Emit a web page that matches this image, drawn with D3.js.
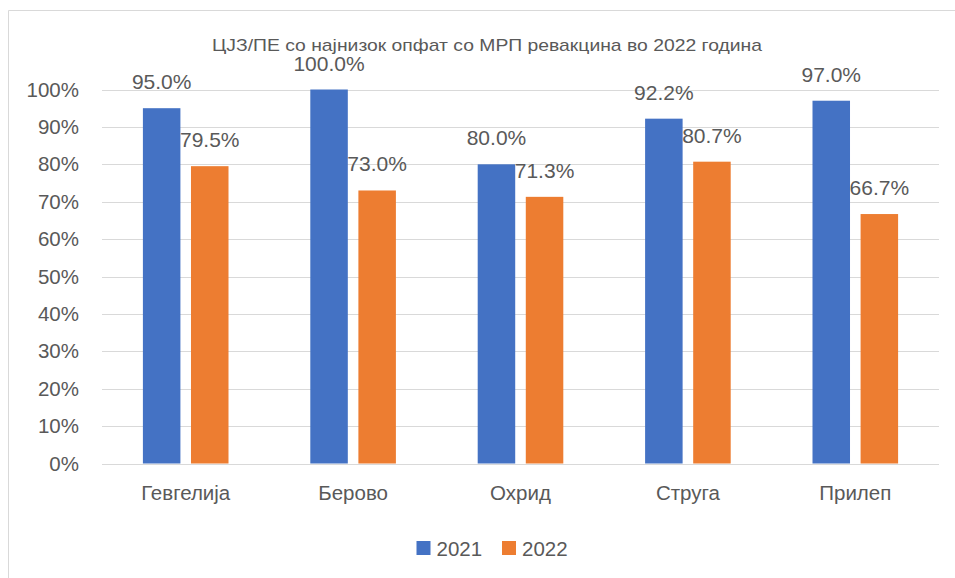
<!DOCTYPE html>
<html>
<head>
<meta charset="utf-8">
<script src="https://cdn.jsdelivr.net/npm/d3@7"></script>
<style>
  body { margin: 0; background: #fff; }
  text { font-family: "Liberation Sans", Arial, sans-serif; fill: #595959; }
</style>
</head>
<body>
<svg id="chart" width="955" height="578"></svg>
<script>
// chart data
var categories = ['Гевгелија', 'Берово', 'Охрид', 'Струга', 'Прилеп'];
var series = ['2021', '2022'];
var values2021 = [95.0, 100.0, 80.0, 92.2, 97.0];
var values2022 = [79.5, 73.0, 71.3, 80.7, 66.7];
var colors = ['#4472C4', '#ED7D31'];
var yTicks = [0, 10, 20, 30, 40, 50, 60, 70, 80, 90, 100];
var title = 'ЦЈЗ/ПЕ со најнизок опфат со МРП ревакцина во 2022 година';

var svg = d3.select('#chart');
var plotLeft = 102, plotRight = 939, plotTop = 89.5, plotBottom = 463.5;

// outer frame (only top and left edges are in view)
svg.append('path')
    .attr('d', 'M8.5,578 L8.5,10.5 L955,10.5')
    .attr('fill', 'none').attr('stroke', '#d9d9d9').attr('stroke-width', 1);

var y = d3.scaleLinear().domain([0, 100]).range([plotBottom, plotTop]);
var x0 = d3.scaleBand().domain(categories).range([plotLeft, plotRight]).padding(0);
var groupW = 85.6;
var x1 = d3.scaleBand().domain(series).range([0, groupW]).paddingInner(0.22).paddingOuter(0);

// gridlines
svg.append('g').selectAll('line').data(yTicks).enter().append('line')
    .attr('x1', plotLeft).attr('x2', plotRight)
    .attr('y1', function (d) { return Math.round(y(d)) + 0.5; })
    .attr('y2', function (d) { return Math.round(y(d)) + 0.5; })
    .attr('stroke', '#d9d9d9').attr('stroke-width', 1);

// y axis labels
var yAxis = d3.axisLeft(y).tickValues(yTicks).tickSize(0).tickPadding(0)
    .tickFormat(function (d) { return d + '%'; });
var gy = svg.append('g').attr('transform', 'translate(79,0)').call(yAxis);
gy.select('.domain').remove();
gy.selectAll('text').style('font-size', '20.5px').attr('fill', '#595959')
    .style('font-family', '"Liberation Sans", Arial, sans-serif');

// bars
var rows = categories.map(function (c, i) {
    return { cat: c, vals: [values2021[i], values2022[i]] };
});
var groups = svg.append('g').selectAll('g').data(rows).enter().append('g')
    .attr('transform', function (d) {
        return 'translate(' + (x0(d.cat) + x0.bandwidth() / 2 - groupW / 2) + ',0)';
    });
groups.selectAll('rect').data(function (d) {
    return d.vals.map(function (v, j) { return { s: series[j], v: v, j: j }; });
}).enter().append('rect')
    .attr('x', function (d) { return x1(d.s); })
    .attr('width', x1.bandwidth())
    .attr('y', function (d) { return y(d.v); })
    .attr('height', function (d) { return plotBottom - y(d.v); })
    .attr('fill', function (d) { return colors[d.j]; });

// data labels
groups.selectAll('text.lbl').data(function (d) {
    return d.vals.map(function (v, j) { return { s: series[j], v: v, j: j }; });
}).enter().append('text').attr('class', 'lbl')
    .attr('x', function (d) { return x1(d.s) + x1.bandwidth() / 2; })
    .attr('y', function (d) { return y(d.v) - 19; })
    .attr('text-anchor', 'middle')
    .style('font-size', '21px')
    .text(function (d) { return d.v.toFixed(1) + '%'; });

// category labels
var xAxis = d3.axisBottom(x0).tickSize(0).tickPadding(0);
var gx = svg.append('g').attr('transform', 'translate(0,500)').call(xAxis);
gx.select('.domain').remove();
gx.selectAll('text').style('font-size', '20.5px').attr('fill', '#595959').attr('dy', 0)
    .style('font-family', '"Liberation Sans", Arial, sans-serif');

// title
svg.append('text').attr('x', 487).attr('y', 51).attr('text-anchor', 'middle')
    .style('font-size', '17px').attr('textLength', 550).attr('lengthAdjust', 'spacingAndGlyphs')
    .text(title);

// legend
var legendX = [416.5, 502];
var lg = svg.append('g').selectAll('g').data(series).enter().append('g')
    .attr('transform', function (d, i) { return 'translate(' + legendX[i] + ',541)'; });
lg.append('rect').attr('width', 14).attr('height', 14)
    .attr('fill', function (d, i) { return colors[i]; });
lg.append('text').attr('x', 20).attr('y', 14.5).style('font-size', '20.5px')
    .text(function (d) { return d; });
</script>
</body>
</html>
